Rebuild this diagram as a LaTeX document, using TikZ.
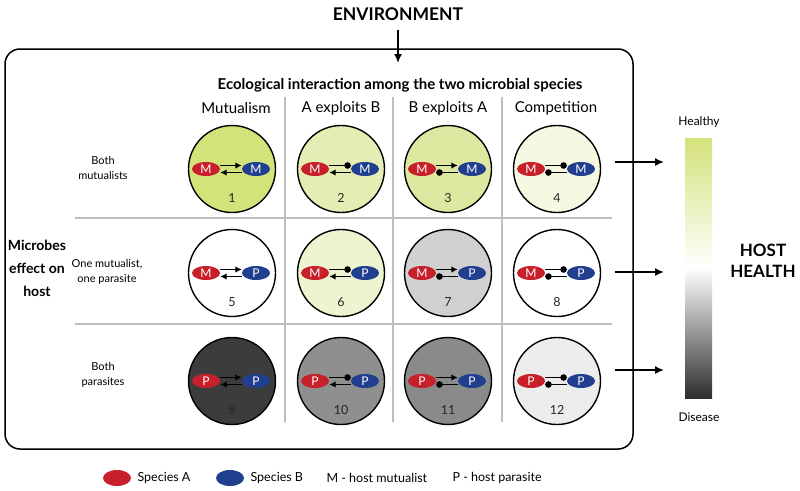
\documentclass[tikz,border=0pt]{standalone}
\usepackage{fontspec}
\setmainfont{Lato}
\usetikzlibrary{arrows.meta,shapes.geometric}
\definecolor{redA}{RGB}{200,32,42}
\definecolor{blueB}{RGB}{33,63,143}
\definecolor{sepgray}{RGB}{190,190,190}
\definecolor{cA}{RGB}{212,226,122}
\definecolor{cB}{RGB}{229,237,180}
\definecolor{cC}{RGB}{222,232,160}
\definecolor{cD}{RGB}{246,249,226}
\definecolor{cF}{RGB}{239,244,208}
\definecolor{cG}{RGB}{208,208,208}
\definecolor{cI}{RGB}{60,60,60}
\definecolor{cJ}{RGB}{143,143,143}
\definecolor{cK}{RGB}{138,138,138}
\definecolor{cL}{RGB}{236,236,236}
\definecolor{barbot}{RGB}{45,45,45}
\tikzset{
  cellc/.style={circle, draw=black, line width=1.4pt, minimum size=87pt, inner sep=0pt},
  spA/.style={ellipse, fill=redA, minimum width=28pt, minimum height=14pt, inner sep=0pt, text=white, font=\fontsize{12}{12}\selectfont},
  spB/.style={spA, fill=blueB},
  numl/.style={font=\fontsize{12.5}{12.5}\selectfont, text=black!85},
  sepline/.style={draw=sepgray, line width=2.5pt},
  link/.style={line width=1.7pt},
  arr/.style={link, -{Latex[length=6.5pt,width=6.5pt]}},
  ball/.style={link, -{Circle[length=6.5pt]}},
  bigarr/.style={line width=1.6pt, -{Latex[length=9pt,width=8pt]}},
  rowlab/.style={font=\fontsize{11}{15}\selectfont, align=center},
  colhead/.style={font=\fontsize{15}{15}\selectfont},
  leglab/.style={font=\fontsize{12.5}{12.5}\selectfont, anchor=west},
}
% #1 id, #2 x, #3 y, #4 fill, #5 letter A, #6 letter B, #7 top style, #8 bottom style
\newcommand\cellpic[8]{%
  \node[cellc, fill=#4] (c#1) at (#2,#3) {};
  \node[spA] (a#1) at (#2-26,#3) {#5};
  \node[spB] (b#1) at (#2+24,#3) {#6};
  \node[numl] (n#1) at (#2,#3+29) {#1};
  \draw[#7] ([yshift=3.5pt]a#1.east) -- ([yshift=3.5pt]b#1.west);
  \draw[#8] ([yshift=-3.5pt]b#1.west) -- ([yshift=-3.5pt]a#1.east);
}
\begin{document}
\begin{tikzpicture}[x=1pt,y=-1pt]
\useasboundingbox (0,0) rectangle (800,490);
% environment
\node[font=\bfseries\fontsize{17.5}{17.5}\selectfont] (env) at (398,14) {ENVIRONMENT};
\draw[rounded corners=15pt, line width=1.5pt] (5,49) rectangle (633,449);
\coordinate (envend) at (398,63);
\draw[bigarr] ([yshift=-6pt]env.south) -- (envend);
% headers
\node[font=\bfseries\fontsize{15}{15}\selectfont] (eco) at (400,85) {Ecological interaction among the two microbial species};
\node[colhead] (h1) at (236,108) {Mutualism};
\node[colhead] (h2) at (341,108) {A exploits B};
\node[colhead] (h3) at (448,108) {B exploits A};
\node[colhead] (h4) at (556,108) {Competition};
% separators
\draw[sepline] (285,97) -- (285,422);
\draw[sepline] (393,97) -- (393,422);
\draw[sepline] (502,97) -- (502,422);
\draw[sepline] (75,218) -- (612,218);
\draw[sepline] (75,324) -- (612,324);
% row labels
\node[font=\bfseries\fontsize{14}{23}\selectfont, align=center] (mic) at (37,268) {Microbes\\effect on\\host};
\node[rowlab] (r1) at (103,168) {Both\\mutualists};
\node[rowlab] (r2) at (107,272) {One mutualist,\\one parasite};
\node[rowlab] (r3) at (103,375) {Both\\parasites};
% cells
\cellpic{1}{232}{169}{cA}{M}{M}{arr}{arr}
\cellpic{2}{341}{169}{cB}{M}{M}{ball}{arr}
\cellpic{3}{448}{169}{cC}{M}{M}{arr}{ball}
\cellpic{4}{557}{169}{cD}{M}{M}{ball}{ball}
\cellpic{5}{232}{273}{white}{M}{P}{arr}{arr}
\cellpic{6}{341}{273}{cF}{M}{P}{ball}{arr}
\cellpic{7}{448}{273}{cG}{M}{P}{arr}{ball}
\cellpic{8}{557}{273}{white}{M}{P}{ball}{ball}
\cellpic{9}{232}{381}{cI}{P}{P}{arr}{arr}
\cellpic{10}{341}{381}{cJ}{P}{P}{ball}{arr}
\cellpic{11}{448}{381}{cK}{P}{P}{arr}{ball}
\cellpic{12}{557}{381}{cL}{P}{P}{ball}{ball}
% health scale
\shade[top color=cA, bottom color=white] (685,138) rectangle (712,268.5);
\shade[top color=white, bottom color=barbot] (685,268) rectangle (712,398);
\node[font=\fontsize{12}{12}\selectfont] (healthy) at (699,122) {Healthy};
\node[font=\fontsize{12}{12}\selectfont] (disease) at (699,417) {Disease};
\node[font=\bfseries\fontsize{17}{21}\selectfont, align=center] (hh) at (763,261) {HOST\\HEALTH};
\coordinate (s1) at (615,162); \coordinate (e1) at (664,162);
\coordinate (s2) at (615,272); \coordinate (e2) at (664,272);
\coordinate (s3) at (615,370); \coordinate (e3) at (664,370);
\draw[bigarr] (s1) -- (e1);
\draw[bigarr] (s2) -- (e2);
\draw[bigarr] (s3) -- (e3);
% legend
\node[ellipse, fill=redA, minimum width=28pt, minimum height=16pt, inner sep=0pt] (la) at (117,478) {};
\node[leglab] (lat) at (134,478) {Species A};
\node[ellipse, fill=blueB, minimum width=28pt, minimum height=16pt, inner sep=0pt] (lb) at (230,478) {};
\node[leglab] (lbt) at (247,478) {Species B};
\node[leglab] (lm) at (323,478) {M - host mutualist};
\node[leglab] (lp) at (449,478) {P - host parasite};
\end{tikzpicture}
\end{document}
